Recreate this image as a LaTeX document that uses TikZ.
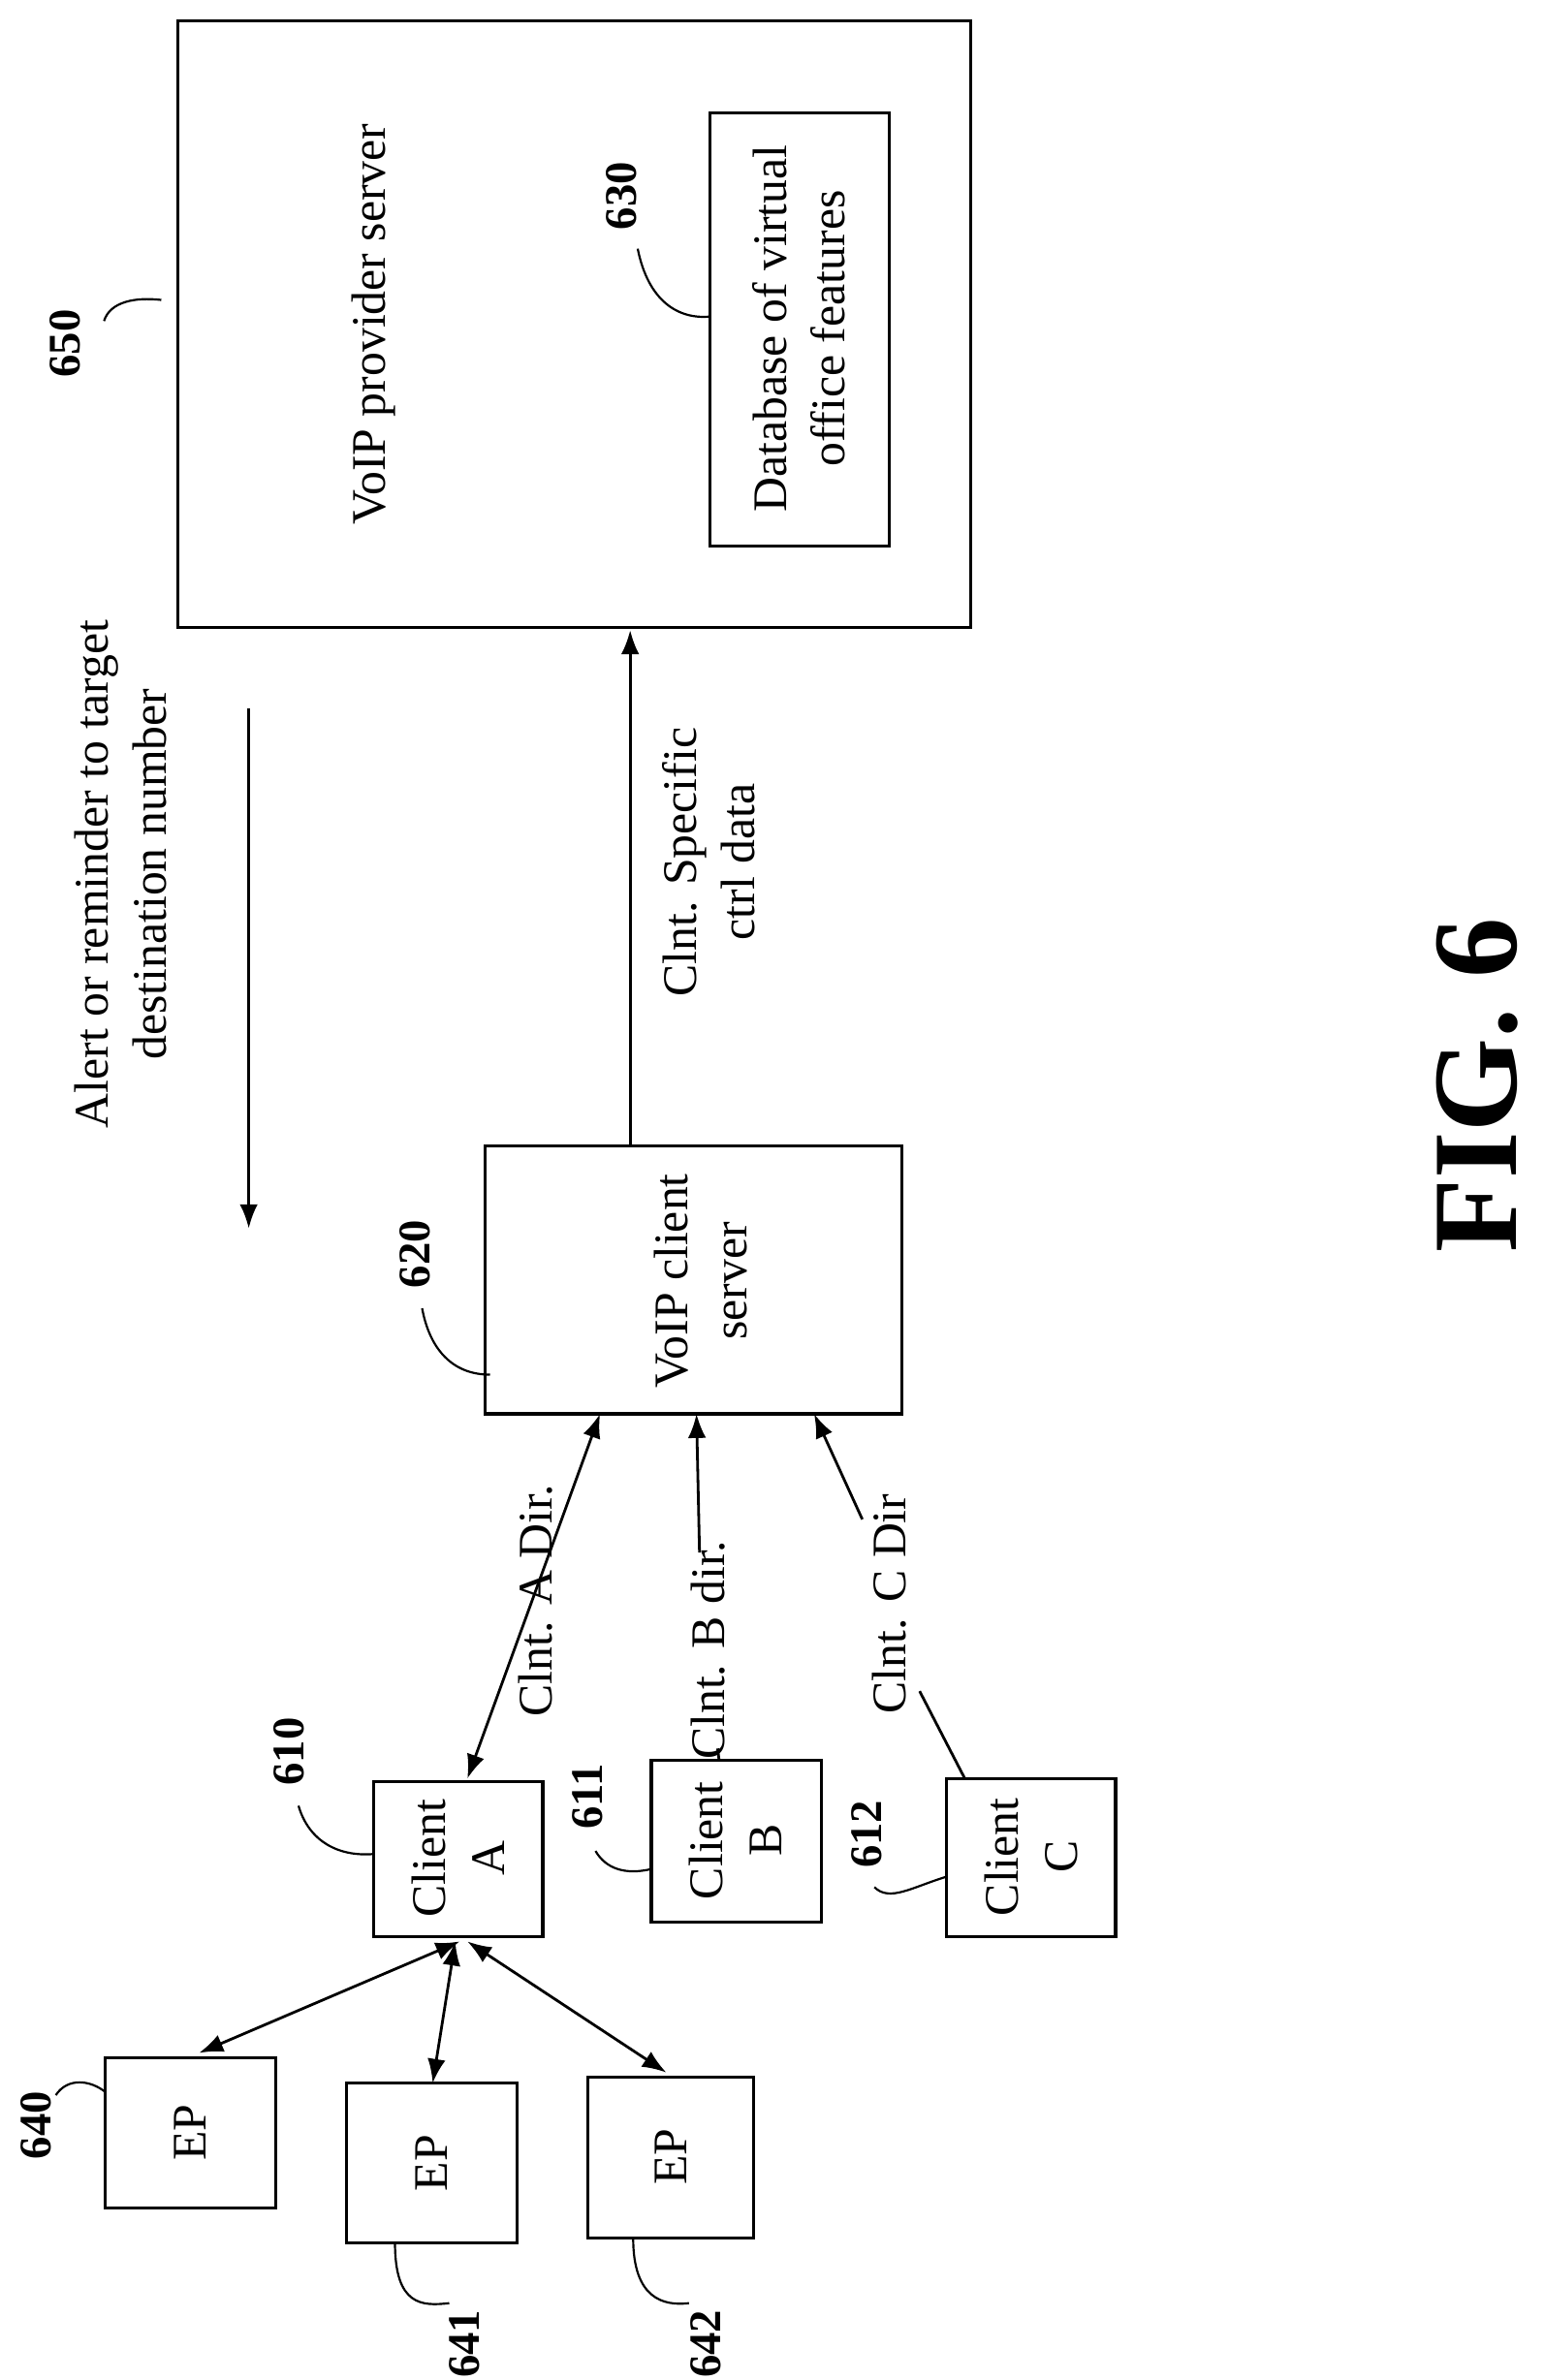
\documentclass[tikz,border=0pt]{standalone}
\usepackage{fontspec}
\setmainfont{Liberation Serif}
\usetikzlibrary{arrows.meta}
\begin{document}
\begin{tikzpicture}[x=0.5pt,y=-0.5pt,
  box/.style={draw,line width=1pt},
  txt/.style={rotate=90,align=center,font=\fontsize{16}{19.5}\selectfont},
  lab/.style={rotate=90,font=\fontsize{15}{16}\selectfont\bfseries},
  lead/.style={line width=0.7pt},
  arr/.style={line width=0.9pt,-{Latex[length=8pt,width=6pt]}},
  darr/.style={line width=0.9pt,{Latex[length=8pt,width=6pt]}-{Latex[length=8pt,width=6pt]}}]
\useasboundingbox (0,0) rectangle (1024,1579);
% boxes
\draw[box] (118,14) rectangle (644,416);
\node[txt] at (248,215) {VoIP provider server};
\draw[box] (471,75) rectangle (590,362);
\node[txt] (db) at (530,218) {Database of virtual\\office features};
\draw[box] (322,760) rectangle (598,938);
\node[txt] at (465,850) {VoIP client\\server};
\draw[box] (248,1182) rectangle (360,1285); \node[txt] at (304,1233) {Client\\A};
\draw[box] (432,1168) rectangle (545,1275); \node[txt] at (488,1221) {Client\\B};
\draw[box] (628,1180) rectangle (740,1285); \node[txt] at (684,1232) {Client\\C};
\draw[box] (70,1365) rectangle (183,1465); \node[txt] at (126,1415) {EP};
\draw[box] (230,1382) rectangle (343,1488); \node[txt] at (286,1435) {EP};
\draw[box] (390,1378) rectangle (500,1485); \node[txt] at (445,1431) {EP};
% labels
\node[lab] (l650) at (43,228) {650};
\draw[lead] (69,213) .. controls (73,200) and (90,197) .. (107,199);
\node[lab] (l630) at (412,130) {630};
\draw[lead] (423,165) .. controls (430,200) and (450,212) .. (471,210);
\node[lab] (l620) at (275,832) {620};
\draw[lead] (280,868) .. controls (285,895) and (300,912) .. (325,912);
\node[lab] (l610) at (192,1162) {610};
\draw[lead] (198,1198) .. controls (205,1222) and (225,1232) .. (248,1230);
\node[lab] (l611) at (390,1192) {611};
\draw[lead] (395,1228) .. controls (402,1240) and (415,1244) .. (432,1240);
\node[lab] (l612) at (575,1217) {612};
\draw[lead] (580,1252) .. controls (590,1262) and (605,1252) .. (628,1245);
\node[lab] (l640) at (24,1410) {640};
\draw[lead] (37,1390) .. controls (45,1378) and (60,1380) .. (70,1388);
\node[lab] (l641) at (308,1555) {641};
\draw[lead] (262,1488) .. controls (262,1530) and (280,1530) .. (298,1528);
\node[lab] (l642) at (468,1555) {642};
\draw[lead] (420,1485) .. controls (420,1525) and (440,1530) .. (457,1528);
% connectors
\draw[arr] (418,760) -- (418,418);
\node[txt] at (470,572) {Clnt. Specific\\ctrl data};
\draw[arr] (165,470) -- (165,815);
\node[txt] at (80,580) {Alert or reminder to target\\destination number};
\draw[darr] (310,1180) -- (398,938);
\node[txt] at (355,1062) {Clnt. A Dir.};
\draw[line width=0.9pt] (477,1168) -- (476,1160);
\draw[arr] (464,1030) -- (462,938);
\node[txt] at (470,1095) {Clnt. B dir.};
\draw[line width=0.9pt] (640,1180) -- (610,1122);
\draw[arr] (572,1008) -- (540,938);
\node[txt] at (590,1064) {Clnt. C Dir};
\draw[darr] (305,1288) -- (132,1362);
\draw[darr] (302,1288) -- (287,1382);
\draw[darr] (310,1288) -- (442,1375);
\node[rotate=90,font=\fontsize{40}{42}\selectfont\bfseries] at (980,720) {FIG. 6};
\end{tikzpicture}
\end{document}
